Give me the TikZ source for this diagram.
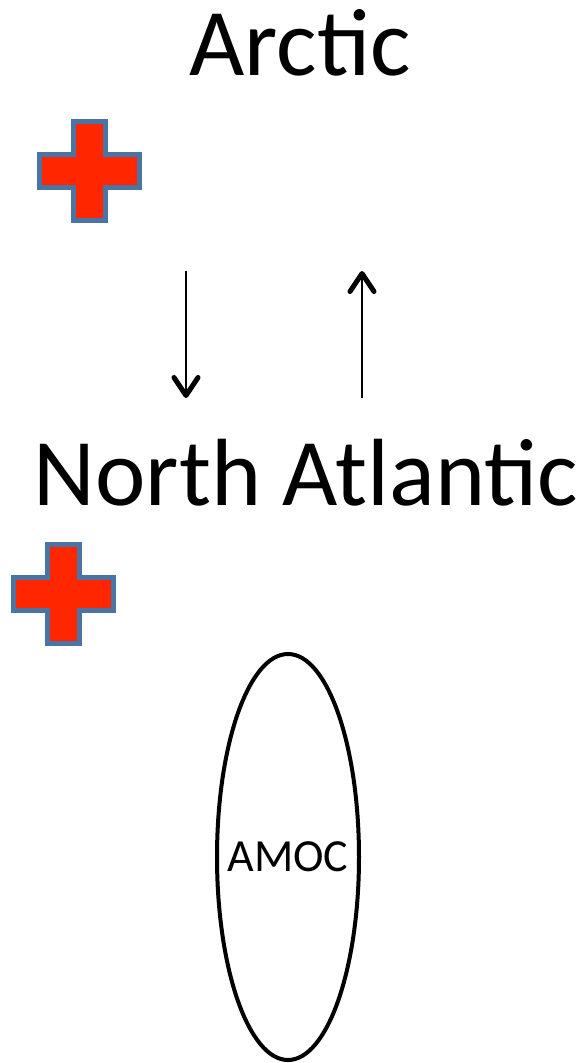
\documentclass[tikz,border=0pt]{standalone}
\usepackage{fontspec}
\setmainfont{Carlito}
\usetikzlibrary{shapes.geometric, arrows.meta}
\definecolor{plusred}{HTML}{FF2600}
\definecolor{plusblue}{HTML}{4A74A4}
\tikzstyle{region} = [
    inner sep=0pt,
    anchor=base,
    font=\fontsize{95.5}{100}\selectfont
]
\tikzstyle{plusmark} = [
    fill=plusred,
    draw=plusblue,
    line width=5pt
]
\tikzstyle{loop} = [
    ellipse,
    draw=black,
    line width=4pt,
    minimum width=142pt,
    minimum height=406pt,
    inner sep=0pt,
    label={[font=\fontsize{46}{50}\selectfont]center:AMOC}
]
\tikzstyle{arrow} = [line width=2pt,-{Straight Barb[length=18pt,width=24pt,line width=5pt,round]}]
\newcommand{\plussign}[1]{%
  \draw [plusmark, shift={#1}] (-16,-49.5) -- (16,-49.5) -- (16,-16.5)
    -- (50,-16.5) -- (50,16.5) -- (16,16.5) -- (16,49.5) -- (-16,49.5)
    -- (-16,16.5) -- (-50,16.5) -- (-50,-16.5) -- (-16,-16.5) -- cycle;}

\begin{document}
\begin{tikzpicture}[x=1pt, y=-1pt]
\useasboundingbox (0,0) rectangle (582,1063);

\node (arctic) [region] at (300,75) {Arctic};

\node (atlantic) [region] at (306,505) {North Atlantic};

\node (amoc) [loop] at (288,857) {};

\plussign{(89.5,171)}
\plussign{(63.5,593.5)}

\coordinate (downtop) at (186,271);
\coordinate (downend) at (186,398);
\coordinate (uptop) at (362,271);
\coordinate (upend) at (362,398);

\draw [arrow] (downtop) -- (downend);
\draw [arrow] (upend) -- (uptop);

\end{tikzpicture}
\end{document}
